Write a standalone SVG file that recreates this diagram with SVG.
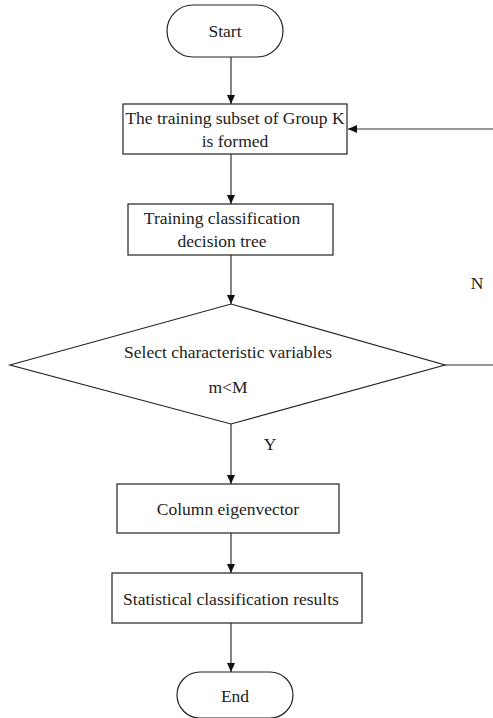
<svg xmlns="http://www.w3.org/2000/svg" width="493" height="718" viewBox="0 0 493 718">
<style>
.n{fill:#fff;stroke:#222;stroke-width:1.2}
.c{fill:none;stroke:#333;stroke-width:1.2}
.t{font-family:'Liberation Serif','DejaVu Serif',serif;font-size:17.5px;fill:#222;text-anchor:middle}
</style>
<defs>
<marker id="a" markerWidth="10" markerHeight="10" refX="9" refY="5" orient="auto" markerUnits="userSpaceOnUse">
<path d="M0,1 L9,5 L0,9 Z" fill="#111"/>
</marker>
</defs>
<rect width="493" height="718" fill="#fff"/>
<g id="connectors">
<line class="c" x1="231" y1="57" x2="231" y2="104" marker-end="url(#a)"/>
<line class="c" x1="231" y1="154" x2="231" y2="204" marker-end="url(#a)"/>
<line class="c" x1="231" y1="255" x2="231" y2="304" marker-end="url(#a)"/>
<line class="c" x1="231" y1="424" x2="231" y2="484" marker-end="url(#a)"/>
<line class="c" x1="231" y1="533" x2="231" y2="573" marker-end="url(#a)"/>
<line class="c" x1="231" y1="623" x2="231" y2="672" marker-end="url(#a)"/>
<line class="c" x1="445" y1="365" x2="493" y2="365"/>
<line class="c" x1="493" y1="129" x2="348" y2="129" marker-end="url(#a)"/>
<text class="t" x="477" y="289">N</text>
<text class="t" x="270" y="450">Y</text>
</g>
<g id="start">
<rect class="n" x="167" y="5" width="116" height="52" rx="26" ry="26"/>
<text class="t" x="225" y="37">Start</text>
</g>
<g id="subset">
<rect class="n" x="123" y="104" width="224" height="50"/>
<text class="t" x="235" y="124">The training subset of Group K</text>
<text class="t" x="235" y="147">is formed</text>
</g>
<g id="train">
<rect class="n" x="128" y="204" width="205" height="51"/>
<text class="t" x="222" y="224">Training classification</text>
<text class="t" x="222" y="247">decision tree</text>
</g>
<g id="decision">
<polygon class="n" points="10,365 231,304 445,365 231,424"/>
<text class="t" x="228" y="358">Select characteristic variables</text>
<text class="t" x="228" y="393">m&lt;M</text>
</g>
<g id="column">
<rect class="n" x="117" y="484" width="222" height="49"/>
<text class="t" x="228" y="515">Column eigenvector</text>
</g>
<g id="stat">
<rect class="n" x="112" y="573" width="250" height="50"/>
<text class="t" x="231" y="605">Statistical classification results</text>
</g>
<g id="end">
<rect class="n" x="177" y="672" width="116" height="46" rx="23" ry="23"/>
<text class="t" x="235" y="702">End</text>
</g>
</svg>
